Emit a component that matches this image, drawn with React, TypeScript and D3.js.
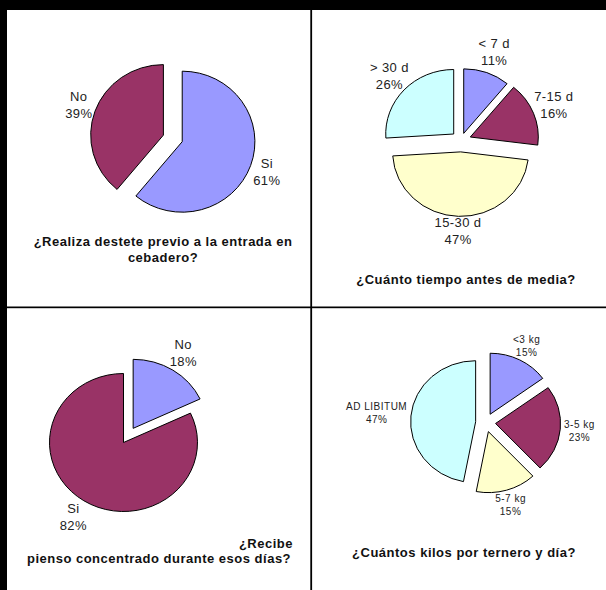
import React from 'react';
import * as d3 from 'd3';

// ---------- DATA ----------
const c1Categories = ['Si', 'No'];
const c1Values = [61, 39];
const c1Title = ['¿Realiza destete previo a la entrada en', 'cebadero?'];

const c2Categories = ['< 7 d', '7-15 d', '15-30 d', '> 30 d'];
const c2Values = [11, 16, 47, 26];
const c2Title = ['¿Cuánto tiempo antes de media?'];

const c3Categories = ['No', 'Si'];
const c3Values = [18, 82];
const c3Title = ['¿Recibe', 'pienso concentrado durante esos días?'];

const c4Categories = ['<3 kg', '3-5 kg', '5-7 kg', 'AD LIBITUM'];
const c4Values = [15, 23, 15, 47];
const c4Title = ['¿Cuántos kilos por ternero y día?'];

// ---------- STYLE ----------
const BLUE = '#9999FF';
const PLUM = '#993366';
const IVORY = '#FFFFCC';
const CYAN = '#CCFFFF';
const FONT = '"Liberation Sans", Arial, Helvetica, sans-serif';

let ctx: CanvasRenderingContext2D | null = null;
function textW(s: string, fs: number, ls: number, bold = false) {
  if (!ctx) ctx = document.createElement('canvas').getContext('2d');
  if (!ctx) return s.length * fs * 0.55;
  ctx.font = `${bold ? 'bold ' : ''}${fs}px "Liberation Sans", Arial`;
  return ctx.measureText(s).width + Math.max(0, s.length - 1) * ls;
}

type PieProps = {
  cx: number; cy: number; rx: number; ry: number;
  cats: string[]; vals: number[]; colors: string[]; explode: number[];
  fs: number; lh: number; ls: number; pad: number[];
};

function Pie({ cx, cy, rx, ry, cats, vals, colors, explode, fs, lh, ls, pad }: PieProps) {
  const arcs = d3.pie<number>().sort(null).value((d) => d)(vals);
  const arcGen = d3.arc<d3.PieArcDatum<number>>().innerRadius(0).outerRadius(rx);
  const sy = ry / rx;
  const total = d3.sum(vals);
  const capH = fs * 0.72;
  return (
    <g>
      {arcs.map((a, i) => {
        const mid = (a.startAngle + a.endAngle) / 2;
        const dx = Math.sin(mid) * explode[i];
        const dy = -Math.cos(mid) * explode[i] * sy;
        return (
          <path
            key={'s' + i}
            d={arcGen(a) || ''}
            transform={`translate(${cx + dx},${cy + dy}) scale(1,${sy})`}
            fill={colors[i]}
            stroke="#000"
            strokeWidth={1}
            vectorEffect="non-scaling-stroke"
          />
        );
      })}
      {arcs.map((a, i) => {
        const mid = (a.startAngle + a.endAngle) / 2;
        const s = Math.sin(mid);
        const c = -Math.cos(mid);
        const ax = cx + s * (rx + explode[i] + pad[i]);
        const ay = cy + c * (ry + explode[i] + pad[i]);
        const pct = Math.round((vals[i] / total) * 100) + '%';
        const w = Math.max(textW(cats[i], fs, ls), textW(pct, fs, ls));
        const h = lh + capH;
        const t = Math.min(
          Math.abs(s) > 1e-6 ? w / 2 / Math.abs(s) : 1e9,
          Math.abs(c) > 1e-6 ? h / 2 / Math.abs(c) : 1e9
        );
        const bx = ax + s * t;
        const by = ay + c * t;
        const b1 = by - h / 2 + capH;
        return (
          <g key={'l' + i} fontSize={fs} fill="#222" textAnchor="middle" letterSpacing={ls}>
            <text x={bx} y={b1}>{cats[i]}</text>
            <text x={bx} y={b1 + lh}>{pct}</text>
          </g>
        );
      })}
    </g>
  );
}

export default function App() {
  const W = 606;
  const H = 590;
  const tfs = 13;
  const tls = 0.5;
  return (
    <svg
      width={W}
      height={H}
      style={{ position: 'absolute', left: 0, top: 0, background: '#fff' }}
      fontFamily={FONT}
    >
      <rect x={0} y={0} width={W} height={H} fill="#fff" />
      <rect x={0} y={0} width={W} height={10} fill="#000" />
      <rect x={0} y={0} width={7} height={H} fill="#000" />
      <rect x={310.3} y={10} width={1.8} height={H - 10} fill="#000" />
      <rect x={7} y={306.5} width={W - 7} height={1.7} fill="#000" />

      {/* Chart 1 */}
      <Pie cx={172.8} cy={138.4} rx={72.7} ry={70.5}
        cats={c1Categories} vals={c1Values} colors={[BLUE, PLUM]} explode={[10, 10]}
        fs={13} lh={17} ls={0.4} pad={[3, 3]} />
      <g fontSize={tfs} fontWeight="bold" textAnchor="middle" fill="#111" letterSpacing={tls}>
        <text x={163} y={246}>{c1Title[0]}</text>
        <text x={163} y={262}>{c1Title[1]}</text>
      </g>

      {/* Chart 2 */}
      <Pie cx={461} cy={140.5} rx={68} ry={64.5}
        cats={c2Categories} vals={c2Values} colors={[BLUE, PLUM, IVORY, CYAN]} explode={[8, 10, 12, 10]}
        fs={13} lh={17} ls={0.4} pad={[8, 1, 1, 1]} />
      <g fontSize={tfs} fontWeight="bold" textAnchor="middle" fill="#111" letterSpacing={tls}>
        <text x={466} y={284}>{c2Title[0]}</text>
      </g>

      {/* Chart 3 */}
      <Pie cx={123.5} cy={442.5} rx={74} ry={69}
        cats={c3Categories} vals={c3Values} colors={[BLUE, PLUM]} explode={[18, 0]}
        fs={13} lh={17} ls={0.4} pad={[4, 4]} />
      <g fontSize={tfs} fontWeight="bold" fill="#111" letterSpacing={tls}>
        <text x={293} y={548} textAnchor="end">{c3Title[0]}</text>
        <text x={159} y={563} textAnchor="middle">{c3Title[1]}</text>
      </g>

      {/* Chart 4 */}
      <Pie cx={485.6} cy={422.6} rx={65} ry={61}
        cats={c4Categories} vals={c4Values} colors={[BLUE, PLUM, IVORY, CYAN]} explode={[10, 10, 10, 10]}
        fs={10} lh={13} ls={0.5} pad={[4, 4, 4, 4]} />
      <g fontSize={tfs} fontWeight="bold" textAnchor="middle" fill="#111" letterSpacing={tls}>
        <text x={464} y={557}>{c4Title[0]}</text>
      </g>
    </svg>
  );
}
